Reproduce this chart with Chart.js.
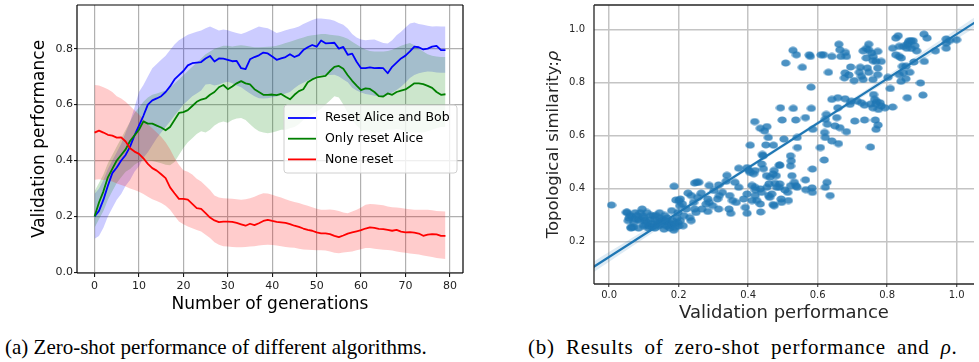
<!DOCTYPE html>
<html>
<head>
<meta charset="utf-8">
<script src="https://cdn.jsdelivr.net/npm/chart.js@4.4.1/dist/chart.umd.min.js"></script>
<style>
  html, body { margin: 0; padding: 0; background: #fff; }
  body { width: 979px; height: 362px; position: relative; overflow: hidden; }
  canvas { position: absolute; top: 0; }
  #gen-chart { left: 0; }
  #topo-chart { left: 530px; }
  .caption {
    position: absolute;
    top: 335px;
    font-family: "Liberation Serif", "Times New Roman", serif;
    font-size: 21px;
    color: #000;
    white-space: nowrap;
  }
  #cap-a { left: 5px; }
  #cap-b { left: 528px; letter-spacing: 0.8px; word-spacing: 5px; }
</style>
</head>
<body>
<canvas id="gen-chart" width="480" height="322"></canvas>
<canvas id="topo-chart" width="449" height="330"></canvas>
<div class="caption" id="cap-a">(a) Zero-shot performance of different algorithms.</div>
<div class="caption" id="cap-b">(b) Results of zero-shot performance and <i>ρ</i>.</div>

<script>
/* Panel (a): validation performance per generation */
const GENERATIONS = Array.from({ length: 80 }, (_, i) => i);
const GEN_TICKS = [0, 10, 20, 30, 40, 50, 60, 70, 80];
const PERF_TICKS = [0.0, 0.2, 0.4, 0.6, 0.8];

const SERIES_LABELS = ["Reset Alice and Bob", "Only reset Alice", "None reset"];
const SERIES_COLORS = ["#0000ff", "#008000", "#ff0000"];
const BAND_COLORS = ["rgba(0,0,255,0.2)", "rgba(0,128,0,0.2)", "rgba(255,0,0,0.2)"];

const BLUE_MEAN = [
  0.200, 0.220, 0.260, 0.310, 0.355, 0.375, 0.400, 0.420, 0.450, 0.490,
  0.525, 0.560, 0.600, 0.615, 0.622, 0.630, 0.645, 0.665, 0.690, 0.705,
  0.720, 0.740, 0.748, 0.750, 0.752, 0.765, 0.774, 0.754, 0.765, 0.764,
  0.760, 0.755, 0.756, 0.730, 0.727, 0.762, 0.770, 0.776, 0.786, 0.783,
  0.772, 0.760, 0.765, 0.770, 0.780, 0.770, 0.777, 0.795, 0.805, 0.813,
  0.807, 0.829, 0.819, 0.820, 0.821, 0.800, 0.806, 0.778, 0.782, 0.753,
  0.730, 0.730, 0.733, 0.730, 0.731, 0.730, 0.712, 0.735, 0.750, 0.765,
  0.775, 0.790, 0.807, 0.805, 0.797, 0.800, 0.807, 0.810, 0.795, 0.795
];
const BLUE_HI = [
  0.28, 0.30, 0.33, 0.37, 0.40, 0.43, 0.46, 0.50, 0.54, 0.59,
  0.645, 0.67, 0.70, 0.73, 0.745, 0.76, 0.775, 0.795, 0.815, 0.83,
  0.84, 0.85, 0.855, 0.86, 0.865, 0.873, 0.879, 0.872, 0.865, 0.868,
  0.866, 0.86, 0.856, 0.852, 0.858, 0.865, 0.872, 0.879, 0.876, 0.873,
  0.865, 0.856, 0.86, 0.866, 0.87, 0.874, 0.879, 0.888, 0.895, 0.902,
  0.908, 0.908, 0.906, 0.904, 0.90, 0.892, 0.885, 0.872, 0.852, 0.84,
  0.833, 0.83, 0.832, 0.833, 0.826, 0.82, 0.818, 0.83, 0.848, 0.86,
  0.876, 0.89, 0.893, 0.888, 0.885, 0.882, 0.879, 0.88, 0.879, 0.879
];
const BLUE_LO = [
  0.12, 0.13, 0.16, 0.20, 0.23, 0.26, 0.28, 0.31, 0.33, 0.36,
  0.38, 0.41, 0.43, 0.455, 0.48, 0.50, 0.52, 0.54, 0.56, 0.58,
  0.60, 0.615, 0.63, 0.64, 0.65, 0.672, 0.674, 0.668, 0.672, 0.678,
  0.682, 0.676, 0.668, 0.662, 0.65, 0.64, 0.63, 0.623, 0.622, 0.623,
  0.626, 0.629, 0.634, 0.64, 0.645, 0.658, 0.67, 0.678, 0.686, 0.693,
  0.70, 0.706, 0.706, 0.706, 0.707, 0.70, 0.69, 0.68, 0.66, 0.65,
  0.643, 0.638, 0.635, 0.632, 0.63, 0.629, 0.634, 0.642, 0.652, 0.664,
  0.678, 0.695, 0.706, 0.712, 0.716, 0.718, 0.717, 0.715, 0.714, 0.714
];

const GREEN_MEAN = [
  0.200, 0.250, 0.290, 0.340, 0.370, 0.400, 0.420, 0.440, 0.470, 0.490,
  0.510, 0.540, 0.532, 0.532, 0.525, 0.518, 0.508, 0.520, 0.545, 0.570,
  0.573, 0.580, 0.595, 0.610, 0.618, 0.622, 0.635, 0.645, 0.662, 0.670,
  0.655, 0.665, 0.676, 0.684, 0.676, 0.672, 0.655, 0.645, 0.635, 0.635,
  0.636, 0.634, 0.638, 0.628, 0.619, 0.635, 0.648, 0.655, 0.680, 0.690,
  0.697, 0.700, 0.703, 0.720, 0.735, 0.738, 0.728, 0.705, 0.685, 0.668,
  0.652, 0.658, 0.656, 0.645, 0.630, 0.629, 0.640, 0.635, 0.645, 0.650,
  0.654, 0.665, 0.676, 0.676, 0.673, 0.667, 0.660, 0.645, 0.635, 0.637
];
const GREEN_HI = [
  0.29, 0.32, 0.35, 0.39, 0.42, 0.45, 0.48, 0.51, 0.54, 0.57,
  0.59, 0.61, 0.625, 0.635, 0.64, 0.645, 0.65, 0.66, 0.675, 0.69,
  0.705, 0.72, 0.735, 0.75, 0.765, 0.78, 0.79, 0.80, 0.805, 0.81,
  0.81, 0.808, 0.81, 0.812, 0.81, 0.808, 0.805, 0.805, 0.806, 0.807,
  0.808, 0.81, 0.815, 0.82, 0.825, 0.83, 0.835, 0.84, 0.845, 0.848,
  0.85, 0.852, 0.852, 0.85, 0.848, 0.846, 0.842, 0.835, 0.825, 0.815,
  0.805, 0.797, 0.792, 0.79, 0.79, 0.79, 0.792, 0.796, 0.803, 0.81,
  0.816, 0.82, 0.812, 0.80, 0.79, 0.78, 0.775, 0.772, 0.77, 0.77
];
const GREEN_LO = [
  0.16, 0.19, 0.22, 0.26, 0.29, 0.32, 0.34, 0.36, 0.37, 0.385,
  0.395, 0.40, 0.40, 0.398, 0.395, 0.39, 0.385, 0.383, 0.395, 0.42,
  0.445, 0.465, 0.48, 0.495, 0.505, 0.50, 0.51, 0.525, 0.535, 0.54,
  0.535, 0.545, 0.55, 0.552, 0.545, 0.53, 0.515, 0.505, 0.50, 0.498,
  0.50, 0.505, 0.51, 0.51, 0.515, 0.52, 0.53, 0.545, 0.555, 0.565,
  0.575, 0.585, 0.60, 0.615, 0.63, 0.625, 0.60, 0.57, 0.545, 0.525,
  0.51, 0.505, 0.50, 0.50, 0.50, 0.505, 0.51, 0.51, 0.512, 0.51,
  0.505, 0.50, 0.50, 0.50, 0.50, 0.505, 0.51, 0.515, 0.52, 0.52
];

const RED_MEAN = [
  0.500, 0.507, 0.500, 0.492, 0.489, 0.482, 0.483, 0.468, 0.444, 0.432,
  0.424, 0.408, 0.388, 0.373, 0.364, 0.351, 0.337, 0.304, 0.283, 0.263,
  0.263, 0.260, 0.245, 0.230, 0.227, 0.212, 0.196, 0.186, 0.180, 0.182,
  0.182, 0.181, 0.177, 0.172, 0.167, 0.174, 0.169, 0.176, 0.184, 0.188,
  0.184, 0.181, 0.179, 0.177, 0.173, 0.167, 0.163, 0.157, 0.152, 0.149,
  0.143, 0.140, 0.140, 0.137, 0.131, 0.126, 0.132, 0.139, 0.143, 0.147,
  0.151, 0.157, 0.161, 0.159, 0.156, 0.155, 0.152, 0.149, 0.152, 0.146,
  0.143, 0.144, 0.142, 0.139, 0.131, 0.135, 0.137, 0.136, 0.131, 0.131
];
const RED_HI = [
  0.67, 0.668, 0.662, 0.655, 0.645, 0.63, 0.622, 0.61, 0.595, 0.58,
  0.565, 0.548, 0.53, 0.515, 0.50, 0.485, 0.465, 0.44, 0.41, 0.385,
  0.365, 0.36, 0.35, 0.335, 0.325, 0.31, 0.295, 0.275, 0.268, 0.265,
  0.264, 0.263, 0.262, 0.26, 0.262, 0.265, 0.271, 0.278, 0.283, 0.282,
  0.278, 0.272, 0.268, 0.262, 0.256, 0.252, 0.248, 0.243, 0.238, 0.233,
  0.228, 0.224, 0.224, 0.225, 0.223, 0.22, 0.214, 0.212, 0.218, 0.224,
  0.232, 0.242, 0.245, 0.244, 0.242, 0.24, 0.236, 0.233, 0.232, 0.23,
  0.228, 0.226, 0.224, 0.224, 0.224, 0.224, 0.222, 0.22, 0.219, 0.218
];
const RED_LO = [
  0.331, 0.333, 0.33, 0.33, 0.325, 0.318, 0.313, 0.307, 0.30, 0.295,
  0.288, 0.28, 0.271, 0.262, 0.255, 0.248, 0.238, 0.224, 0.203, 0.182,
  0.172, 0.164, 0.158, 0.152, 0.146, 0.135, 0.123, 0.108, 0.099, 0.094,
  0.093, 0.091, 0.09, 0.09, 0.091, 0.093, 0.094, 0.096, 0.098, 0.099,
  0.098, 0.096, 0.094, 0.091, 0.089, 0.088, 0.085, 0.082, 0.081, 0.08,
  0.079, 0.079, 0.078, 0.075, 0.07, 0.069, 0.071, 0.073, 0.075, 0.079,
  0.083, 0.087, 0.087, 0.085, 0.083, 0.081, 0.08, 0.078, 0.075, 0.072,
  0.07, 0.068, 0.066, 0.064, 0.061, 0.058, 0.055, 0.052, 0.05, 0.048
];

/* Panel (b): topological similarity against validation performance */
const VAL_TICKS = [0.0, 0.2, 0.4, 0.6, 0.8, 1.0];
const TOPO_TICKS = [0.2, 0.4, 0.6, 0.8, 1.0];

// [validation performance, topological similarity]
const RUNS = [
  [0.007,0.339],[0.050,0.312],[0.052,0.311],[0.055,0.280],[0.057,0.290],[0.060,0.300],[0.063,0.252],[0.064,0.256],
  [0.066,0.295],[0.070,0.255],[0.071,0.273],[0.075,0.310],[0.076,0.286],[0.080,0.299],[0.085,0.252],[0.085,0.285],
  [0.090,0.280],[0.090,0.310],[0.095,0.324],[0.097,0.299],[0.099,0.261],[0.100,0.290],[0.104,0.280],[0.105,0.265],
  [0.109,0.311],[0.113,0.273],[0.113,0.252],[0.115,0.260],[0.118,0.285],[0.120,0.300],[0.123,0.267],[0.125,0.255],
  [0.128,0.299],[0.132,0.286],[0.132,0.252],[0.135,0.300],[0.137,0.267],[0.140,0.275],[0.142,0.261],[0.145,0.310],
  [0.146,0.290],[0.148,0.265],[0.151,0.280],[0.155,0.285],[0.158,0.248],[0.160,0.300],[0.161,0.280],[0.164,0.261],
  [0.165,0.275],[0.167,0.290],[0.170,0.260],[0.173,0.273],[0.175,0.252],[0.180,0.318],[0.180,0.265],[0.184,0.280],
  [0.186,0.244],[0.187,0.410],[0.189,0.254],[0.190,0.270],[0.192,0.358],[0.195,0.290],[0.198,0.273],[0.198,0.311],
  [0.200,0.260],[0.201,0.356],[0.203,0.337],[0.205,0.362],[0.205,0.280],[0.211,0.343],[0.213,0.261],[0.215,0.299],
  [0.222,0.324],[0.227,0.384],[0.232,0.292],[0.236,0.280],[0.236,0.375],[0.243,0.349],[0.246,0.422],[0.246,0.324],
  [0.250,0.311],[0.252,0.425],[0.255,0.368],[0.258,0.425],[0.265,0.384],[0.267,0.324],[0.279,0.343],[0.284,0.362],
  [0.284,0.315],[0.288,0.349],[0.288,0.413],[0.298,0.337],[0.302,0.394],[0.312,0.362],[0.315,0.415],[0.315,0.324],
  [0.317,0.375],[0.326,0.387],[0.337,0.429],[0.339,0.451],[0.345,0.324],[0.347,0.375],[0.350,0.308],[0.355,0.356],
  [0.362,0.425],[0.366,0.349],[0.373,0.478],[0.373,0.406],[0.387,0.362],[0.392,0.330],[0.397,0.480],[0.397,0.381],
  [0.397,0.308],[0.402,0.470],[0.406,0.462],[0.406,0.565],[0.411,0.413],[0.411,0.356],[0.416,0.457],[0.419,0.654],
  [0.420,0.469],[0.420,0.406],[0.420,0.375],[0.421,0.396],[0.425,0.356],[0.435,0.629],[0.435,0.400],[0.435,0.343],
  [0.436,0.313],[0.439,0.494],[0.439,0.387],[0.441,0.530],[0.443,0.525],[0.444,0.476],[0.447,0.619],[0.451,0.566],
  [0.453,0.450],[0.454,0.635],[0.454,0.406],[0.458,0.594],[0.459,0.375],[0.460,0.419],[0.462,0.368],[0.463,0.444],
  [0.468,0.381],[0.472,0.456],[0.472,0.341],[0.473,0.565],[0.475,0.470],[0.475,0.337],[0.477,0.421],[0.481,0.450],
  [0.482,0.406],[0.490,0.490],[0.490,0.406],[0.491,0.489],[0.491,0.419],[0.493,0.706],[0.495,0.362],[0.496,0.349],
  [0.498,0.660],[0.503,0.588],[0.506,0.396],[0.508,0.875],[0.514,0.387],[0.516,0.356],[0.522,0.525],[0.522,0.487],
  [0.522,0.412],[0.524,0.506],[0.526,0.450],[0.529,0.923],[0.530,0.704],[0.533,0.425],[0.537,0.660],[0.538,0.412],
  [0.539,0.906],[0.541,0.594],[0.541,0.406],[0.542,0.556],[0.556,0.859],[0.565,0.669],[0.565,0.434],[0.566,0.397],
  [0.576,0.906],[0.579,0.900],[0.581,0.784],[0.582,0.704],[0.584,0.404],[0.585,0.475],[0.585,0.387],[0.586,0.625],
  [0.608,0.556],[0.610,0.906],[0.617,0.906],[0.620,0.613],[0.619,0.509],[0.622,0.663],[0.622,0.594],[0.622,0.406],
  [0.625,0.681],[0.627,0.425],[0.628,0.644],[0.631,0.840],[0.636,0.375],[0.641,0.900],[0.641,0.738],[0.641,0.581],
  [0.650,0.638],[0.655,0.669],[0.658,0.744],[0.658,0.706],[0.660,0.571],[0.661,0.946],[0.664,0.925],[0.664,0.631],
  [0.667,0.900],[0.677,0.819],[0.679,0.838],[0.679,0.740],[0.680,0.915],[0.683,0.900],[0.683,0.616],[0.690,0.830],
  [0.693,0.719],[0.695,0.860],[0.697,0.731],[0.705,0.809],[0.707,0.656],[0.714,0.731],[0.720,0.840],[0.723,0.859],
  [0.726,0.825],[0.726,0.725],[0.731,0.921],[0.731,0.813],[0.735,0.716],[0.735,0.660],[0.740,0.894],[0.740,0.930],
  [0.743,0.856],[0.747,0.946],[0.747,0.925],[0.747,0.840],[0.752,0.558],[0.752,0.720],[0.755,0.913],[0.759,0.884],
  [0.759,0.813],[0.759,0.706],[0.760,0.900],[0.761,0.756],[0.764,0.738],[0.766,0.660],[0.768,0.881],[0.768,0.721],
  [0.768,0.625],[0.770,0.730],[0.773,0.919],[0.773,0.856],[0.773,0.831],[0.774,0.641],[0.775,0.700],[0.780,0.725],
  [0.783,0.881],[0.783,0.713],[0.794,0.706],[0.802,0.821],[0.809,0.779],[0.816,0.931],[0.816,0.709],[0.825,0.969],
  [0.825,0.906],[0.832,0.978],[0.835,0.938],[0.835,0.900],[0.835,0.831],[0.840,0.806],[0.841,0.894],[0.844,0.863],
  [0.847,0.938],[0.847,0.838],[0.854,0.863],[0.854,0.816],[0.856,0.931],[0.858,0.944],[0.858,0.744],[0.860,0.950],
  [0.863,0.959],[0.865,0.840],[0.869,0.959],[0.870,0.930],[0.875,0.959],[0.877,0.879],[0.880,0.940],[0.885,0.921],
  [0.896,0.800],[0.903,0.754],[0.906,0.984],[0.907,0.881],[0.915,0.969],[0.939,0.921],[0.970,0.966],[0.970,0.950],
  [0.970,0.931],[0.980,0.960],[1.000,0.963]
];

// least-squares fit and its confidence half-width
const FIT_SLOPE = 0.841;
const FIT_INTERCEPT = 0.143;
const FIT_CI_X = [-0.05, 0.25, 0.5, 0.75, 1.06];
const FIT_CI_HALF = [0.020, 0.010, 0.007, 0.010, 0.020];

Chart.defaults.font.family = "'DejaVu Sans', sans-serif";
Chart.defaults.animation = false;
Chart.defaults.events = [];

const points = (xs, ys) => xs.map((x, i) => ({ x, y: ys[i] }));
const fixedTicks = (values) => (scale) => {
  scale.ticks = values.map((value) => ({ value }));
};
const fixedSize = (prop, size) => (scale) => {
  scale[prop] = size;
  scale.paddingTop = 0;
  scale.paddingBottom = 0;
  scale.paddingLeft = 0;
  scale.paddingRight = 0;
};

// spines drawn on top of the plot
const framePlugin = {
  id: "frame",
  afterDraw(chart, args, opts) {
    const { ctx, chartArea: a } = chart;
    ctx.save();
    ctx.strokeStyle = opts.color;
    ctx.lineWidth = opts.width;
    ctx.beginPath();
    opts.sides.forEach((side) => {
      if (side === "left") { ctx.moveTo(a.left, a.top); ctx.lineTo(a.left, a.bottom); }
      if (side === "right") { ctx.moveTo(a.right, a.top); ctx.lineTo(a.right, a.bottom); }
      if (side === "top") { ctx.moveTo(a.left, a.top); ctx.lineTo(a.right, a.top); }
      if (side === "bottom") { ctx.moveTo(a.left, a.bottom); ctx.lineTo(a.right, a.bottom); }
    });
    ctx.stroke();
    ctx.restore();
  },
};

// matplotlib-like legend box inside the plot
const boxLegendPlugin = {
  id: "boxLegend",
  afterDraw(chart, args, opts) {
    if (!opts.items) return;
    const { ctx } = chart;
    const { x, y, w, h } = opts.box;
    ctx.save();
    ctx.beginPath();
    ctx.roundRect(x, y, w, h, 3);
    ctx.fillStyle = "rgba(255,255,255,0.8)";
    ctx.fill();
    ctx.strokeStyle = "#d0d0d0";
    ctx.lineWidth = 1;
    ctx.stroke();
    ctx.font = "12.5px 'DejaVu Sans'";
    ctx.textBaseline = "middle";
    opts.items.forEach((item, i) => {
      const ly = y + 13 + i * 20.7;
      ctx.strokeStyle = item.color;
      ctx.lineWidth = 1.8;
      ctx.beginPath();
      ctx.moveTo(x + 4, ly);
      ctx.lineTo(x + 32, ly);
      ctx.stroke();
      ctx.fillStyle = "#000";
      ctx.fillText(item.label, x + 41, ly);
    });
    ctx.restore();
  },
};

// y title with an italic rho
const rhoTitlePlugin = {
  id: "rhoTitle",
  afterDraw(chart, args, opts) {
    if (!opts.text) return;
    const { ctx, chartArea: a } = chart;
    const plain = "16.5px 'DejaVu Sans'";
    const italic = "italic 16.5px 'DejaVu Sans'";
    ctx.save();
    ctx.font = plain;
    const w1 = ctx.measureText(opts.text).width;
    ctx.font = italic;
    const w2 = ctx.measureText(opts.symbol).width;
    ctx.translate(opts.x, (a.top + a.bottom) / 2);
    ctx.rotate(-Math.PI / 2);
    ctx.textBaseline = "middle";
    ctx.fillStyle = "#262626";
    ctx.font = plain;
    ctx.fillText(opts.text, -(w1 + w2) / 2, 0);
    ctx.font = italic;
    ctx.fillText(opts.symbol, -(w1 + w2) / 2 + w1, 0);
    ctx.restore();
  },
};

Chart.register(framePlugin, boxLegendPlugin, rhoTitlePlugin);

/* ---- chart (a) ---- */
const means = [BLUE_MEAN, GREEN_MEAN, RED_MEAN];
const highs = [BLUE_HI, GREEN_HI, RED_HI];
const lows = [BLUE_LO, GREEN_LO, RED_LO];

const genDatasets = [];
means.forEach((_, s) => {
  genDatasets.push({
    data: points(GENERATIONS, highs[s]),
    borderWidth: 0,
    borderColor: "transparent",
    pointRadius: 0,
    backgroundColor: BAND_COLORS[s],
    fill: "+1",
    order: 6 - s,
  });
  genDatasets.push({
    data: points(GENERATIONS, lows[s]),
    borderWidth: 0,
    borderColor: "transparent",
    pointRadius: 0,
    fill: false,
    order: 6 - s,
  });
});
means.forEach((values, s) => {
  genDatasets.push({
    label: SERIES_LABELS[s],
    data: points(GENERATIONS, values),
    borderColor: SERIES_COLORS[s],
    borderWidth: 1.8,
    borderJoinStyle: "round",
    pointRadius: 0,
    fill: false,
    order: 3 - s,
  });
});

new Chart(document.getElementById("gen-chart"), {
  type: "line",
  data: { datasets: genDatasets },
  options: {
    responsive: false,
    layout: { padding: { top: 5, right: 17, left: 0, bottom: 0 } },
    elements: { line: { tension: 0 } },
    plugins: {
      legend: { display: false },
      tooltip: { enabled: false },
      frame: { color: "#000", width: 1.2, sides: ["left", "right", "top", "bottom"] },
      boxLegend: {
        box: { x: 284, y: 105, w: 173, h: 68 },
        items: SERIES_LABELS.map((label, i) => ({ label, color: SERIES_COLORS[i] })),
      },
    },
    scales: {
      x: {
        type: "linear",
        min: -3.95,
        max: 82.95,
        afterBuildTicks: fixedTicks(GEN_TICKS),
        afterFit: fixedSize("height", 49),
        ticks: { autoSkip: false, maxRotation: 0, padding: 3, color: "#222", font: { size: 11 },
                 callback: (v) => String(v) },
        grid: { color: "#b0b0b0", lineWidth: 1.2, tickLength: 4, tickColor: "#000", tickWidth: 1 },
        border: { display: false },
        title: { display: true, text: "Number of generations", color: "#000",
                 font: { size: 17 }, padding: { top: 0, bottom: 6.8 } },
      },
      y: {
        min: -0.002,
        max: 0.956,
        afterBuildTicks: fixedTicks(PERF_TICKS),
        afterFit: fixedSize("width", 77),
        ticks: { autoSkip: false, padding: 1, color: "#222", font: { size: 11 },
                 callback: (v) => v.toFixed(1) },
        grid: { color: "#b0b0b0", lineWidth: 1.2, tickLength: 3, tickColor: "#000", tickWidth: 1 },
        border: { display: false },
        title: { display: true, text: "Validation performance", color: "#000",
                 font: { size: 17 }, padding: { top: 29.8, bottom: 0 } },
      },
    },
  },
});

/* ---- chart (b) ---- */
const dot = document.createElement("canvas");
dot.width = 10;
dot.height = 8;
(() => {
  const g = dot.getContext("2d");
  g.fillStyle = "rgba(31,119,180,0.8)";
  g.beginPath();
  g.ellipse(5, 4, 4.6, 3.6, 0, 0, Math.PI * 2);
  g.fill();
})();

const fitAt = (x) => FIT_INTERCEPT + FIT_SLOPE * x;
const fitLine = [FIT_CI_X[0], FIT_CI_X[FIT_CI_X.length - 1]].map((x) => ({ x, y: fitAt(x) }));

new Chart(document.getElementById("topo-chart"), {
  type: "scatter",
  data: {
    datasets: [
      {
        type: "line",
        data: FIT_CI_X.map((x, i) => ({ x, y: fitAt(x) + FIT_CI_HALF[i] })),
        borderWidth: 0,
        borderColor: "transparent",
        pointRadius: 0,
        backgroundColor: "rgba(31,119,180,0.15)",
        tension: 0.4,
        fill: "+1",
        order: 1,
      },
      {
        type: "line",
        data: FIT_CI_X.map((x, i) => ({ x, y: fitAt(x) - FIT_CI_HALF[i] })),
        borderWidth: 0,
        borderColor: "transparent",
        pointRadius: 0,
        tension: 0.4,
        fill: false,
        order: 1,
      },
      {
        type: "line",
        data: fitLine,
        borderColor: "#1f77b4",
        borderWidth: 2.3,
        pointRadius: 0,
        fill: false,
        order: 0,
      },
      {
        data: RUNS.map(([x, y]) => ({ x, y })),
        pointStyle: dot,
        pointRadius: 4,
        order: 2,
      },
    ],
  },
  options: {
    responsive: false,
    layout: { padding: { top: 4, right: 0, left: 0, bottom: 0 } },
    plugins: {
      legend: { display: false },
      tooltip: { enabled: false },
      frame: { color: "#262626", width: 1.3, sides: ["left", "top", "bottom"] },
      rhoTitle: { text: "Topological similarity:", symbol: "ρ", x: 24 },
    },
    scales: {
      x: {
        type: "linear",
        min: -0.0435,
        max: 1.05,
        afterBuildTicks: fixedTicks(VAL_TICKS),
        afterFit: fixedSize("height", 46),
        ticks: { autoSkip: false, maxRotation: 0, padding: 2, color: "#262626", font: { size: 10 },
                 callback: (v) => v.toFixed(1) },
        grid: { color: "#c4c4c4", lineWidth: 1.5, tickLength: 3, tickColor: "#262626", tickWidth: 1 },
        border: { display: false },
        title: { display: true, text: "Validation performance", color: "#262626",
                 font: { size: 18 }, padding: { top: 0, bottom: 6.2 } },
      },
      y: {
        min: 0.041,
        max: 1.094,
        afterBuildTicks: fixedTicks(TOPO_TICKS),
        afterFit: fixedSize("width", 64),
        ticks: { autoSkip: false, padding: 9, color: "#262626", font: { size: 10 },
                 callback: (v) => v.toFixed(1) },
        grid: { color: "#c4c4c4", lineWidth: 1.5, drawTicks: false },
        border: { display: false },
      },
    },
  },
});
</script>
</body>
</html>
